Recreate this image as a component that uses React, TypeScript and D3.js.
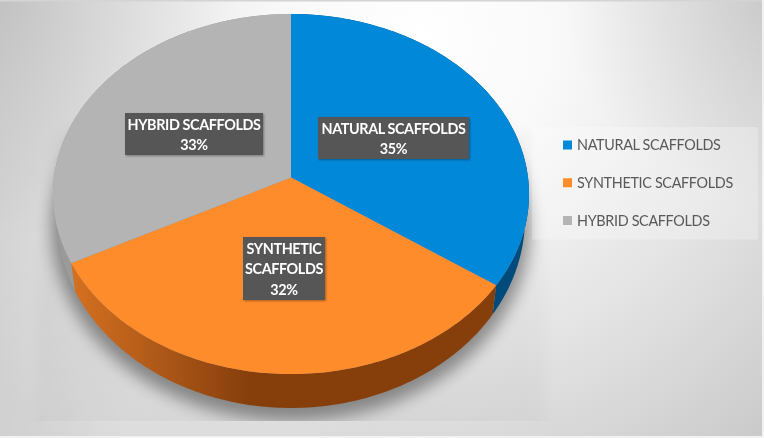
import { line, pie, scaleOrdinal, scalePoint } from "d3";

const categories = ["NATURAL SCAFFOLDS", "SYNTHETIC SCAFFOLDS", "HYBRID SCAFFOLDS"];
const shares = [34.7, 32.7, 32.6];
const topColors = ["#0288d8", "#ff8c2b", "#b4b4b4"];
const wallColors = ["#004a7c", "url(#orangeWall)", "#9a9a9a"];
const labelLines = [
  ["NATURAL SCAFFOLDS", "35%"],
  ["SYNTHETIC", "SCAFFOLDS", "32%"],
  ["HYBRID SCAFFOLDS", "33%"],
];
const labelBoxes = [
  { x: 318, y: 117, w: 151, h: 42 },
  { x: 243, y: 237, w: 82, h: 63 },
  { x: 125, y: 113, w: 138, h: 42 },
];

const W = 764;
const H = 438;
const cx = 291;
// perspective of the tilted disc
const tilt = 0.092;
const topFace = { apexY: 177.5, a: 178.5, b: 237 };
const lowFace = { apexY: 200.5, a: 188.4, b: 233 };

type Face = typeof topFace;

const project = (face: Face, angle: number): [number, number] => {
  const w = 1 + tilt * Math.cos(angle);
  return [
    cx + (face.b * Math.sin(angle)) / w,
    face.apexY - (face.a * Math.cos(angle)) / w,
  ];
};

const arcPoints = (face: Face, a0: number, a1: number) => {
  const n = Math.max(2, Math.ceil(Math.abs(a1 - a0) * 60));
  return Array.from({ length: n + 1 }, (_, i) =>
    project(face, a0 + ((a1 - a0) * i) / n)
  );
};

const path = line();

export default function App() {
  const slices = pie<number>().sort(null)(shares);
  const color = scaleOrdinal<string, string>().domain(categories).range(topColors);
  const wall = scaleOrdinal<string, string>().domain(categories).range(wallColors);
  const legendY = scalePoint<string>().domain(categories).range([145, 220.5]);

  return (
    <svg
      width={W}
      height={H}
      style={{ position: "fixed", left: 0, top: 0 }}
      fontFamily="Lato, 'Open Sans', sans-serif"
    >
      <defs>
        <radialGradient id="bg" gradientUnits="userSpaceOnUse" cx={420} cy={40} r={540}>
          <stop offset="0" stopColor="#ffffff" />
          <stop offset="0.25" stopColor="#f9f9f9" />
          <stop offset="0.6" stopColor="#e4e4e4" />
          <stop offset="1" stopColor="#c8c8c8" />
        </radialGradient>
        <radialGradient id="cornerDark" gradientUnits="userSpaceOnUse" cx={0} cy={0} r={240}>
          <stop offset="0" stopColor="#000" stopOpacity={0.1} />
          <stop offset="1" stopColor="#000" stopOpacity={0} />
        </radialGradient>
        <radialGradient id="cornerDarkRight" gradientUnits="userSpaceOnUse" cx={764} cy={0} r={200}>
          <stop offset="0" stopColor="#000" stopOpacity={0.1} />
          <stop offset="1" stopColor="#000" stopOpacity={0} />
        </radialGradient>
        <radialGradient id="lowLight" gradientUnits="userSpaceOnUse" cx={120} cy={420} r={260}>
          <stop offset="0" stopColor="#fff" stopOpacity={0.3} />
          <stop offset="1" stopColor="#fff" stopOpacity={0} />
        </radialGradient>
        <linearGradient id="orangeWall" gradientUnits="userSpaceOnUse" x1={72} x2={250} y1={0} y2={0}>
          <stop offset="0" stopColor="#d5701f" />
          <stop offset="0.5" stopColor="#ad5818" />
          <stop offset="1" stopColor="#863e0b" />
        </linearGradient>
        <filter id="softShadow" x="-20%" y="-20%" width="140%" height="140%">
          <feGaussianBlur stdDeviation="8" />
        </filter>
        <filter id="wideShadow" x="-20%" y="-20%" width="140%" height="140%">
          <feGaussianBlur stdDeviation="8" />
        </filter>
        <filter id="boxShadow" x="-10%" y="-10%" width="125%" height="130%">
          <feDropShadow dx="1" dy="1" stdDeviation="1.2" floodColor="#000" floodOpacity="0.35" />
        </filter>
        <clipPath id="shadowClip">
          <rect x={0} y={0} width={W} height={421} />
        </clipPath>
      </defs>

      <rect x={0} y={0} width={W} height={H} fill="url(#bg)" />
      <rect x={0} y={0} width={W} height={H} fill="url(#cornerDark)" />
      <rect x={0} y={0} width={W} height={H} fill="url(#cornerDarkRight)" />
      <rect x={0} y={0} width={W} height={H} fill="url(#lowLight)" />
      <rect x={0} y={0} width={W} height={1.5} fill="#d4d4d4" />
      <rect x={W - 2} y={0} width={2} height={H} fill="#f2f2f2" />
      <rect x={0} y={H - 2} width={W} height={2} fill="#f2f2f2" />

      <g clipPath="url(#shadowClip)">
        <path
          d={path([[55, 130], [528, 130], [546, 300], [546, 440], [37, 440], [37, 300]]) + "Z"}
          fill="#000"
          opacity={0.025}
          filter="url(#wideShadow)"
        />
        <ellipse cx={291} cy={227} rx={239} ry={194} fill="#000" opacity={0.38} filter="url(#softShadow)" />
      </g>

      <g>
        {slices.map((s, i) => {
          const upper = arcPoints(topFace, s.startAngle, s.endAngle);
          const lower = arcPoints(lowFace, s.endAngle, s.startAngle);
          return (
            <path
              key={categories[i]}
              d={path([...upper, ...lower]) + "Z"}
              fill={wall(categories[i])}
            />
          );
        })}
      </g>

      <g>
        {slices.map((s, i) => (
          <path
            key={categories[i]}
            d={path([[cx, topFace.apexY], ...arcPoints(topFace, s.startAngle, s.endAngle)]) + "Z"}
            fill={color(categories[i])}
          />
        ))}
      </g>

      {labelBoxes.map((box, i) => (
        <g key={categories[i]}>
          <rect x={box.x} y={box.y} width={box.w} height={box.h} fill="#565656" filter="url(#boxShadow)" />
          <text
            x={box.x + box.w / 2}
            textAnchor="middle"
            fontSize={14.4}
            letterSpacing={-0.4}
            fontWeight={700}
            fill="#ffffff"
          >
            {labelLines[i].map((t, j) => (
              <tspan key={j} x={box.x + box.w / 2} y={box.y + 17 + j * 20.3}>
                {t}
              </tspan>
            ))}
          </text>
        </g>
      ))}

      <rect x={532} y={127} width={226} height={112.5} fill="#ffffff" opacity={0.25} />
      {categories.map((c, i) => (
        <g key={c}>
          <rect x={563} y={legendY(c)! - 4.5} width={9} height={9} fill={color(c)} />
          <text x={577} y={legendY(c)! + 5} fontSize={14.4} letterSpacing={-0.33} fill="#595959">
            {c}
          </text>
        </g>
      ))}
    </svg>
  );
}
